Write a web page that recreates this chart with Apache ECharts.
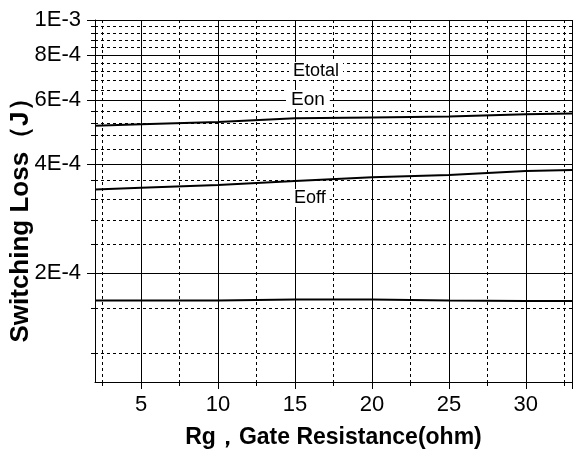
<!DOCTYPE html>
<html>
<head>
<meta charset="utf-8">
<script src="https://cdn.jsdelivr.net/npm/echarts@6/dist/echarts.min.js"></script>
<style>
  html, body { margin: 0; padding: 0; background: #fff; }
  #container { width: 573px; height: 454px; }
</style>
</head>
<body>
<div id="container"></div>
<script>
// Rg (ohm)
var rg = [2, 5, 10, 15, 20, 25, 30, 33];
// switching loss (J)
var etotal = [5.10e-4, 5.15e-4, 5.23e-4, 5.35e-4, 5.38e-4, 5.41e-4, 5.49e-4, 5.52e-4];
var eon = [3.40e-4, 3.44e-4, 3.50e-4, 3.59e-4, 3.68e-4, 3.73e-4, 3.83e-4, 3.85e-4];
var eoff = [1.68e-4, 1.68e-4, 1.68e-4, 1.69e-4, 1.69e-4, 1.68e-4, 1.675e-4, 1.675e-4];

var xMajor = [5, 10, 15, 20, 25, 30];
var xMinor = [2.5, 7.5, 12.5, 17.5, 22.5, 27.5, 32.5];
var yMajor = [2e-4, 4e-4, 6e-4, 8e-4, 1e-3];
var yMinor = [1.2e-4, 1.6e-4, 2.4e-4, 2.8e-4, 3.2e-4, 3.6e-4, 4.4e-4, 4.8e-4, 5.2e-4, 5.6e-4,
              6.4e-4, 6.8e-4, 7.2e-4, 7.6e-4, 8.4e-4, 8.8e-4, 9.2e-4, 9.6e-4];

var FONT = "'Liberation Sans', Arial, sans-serif";

function lg(v) { return Math.log10(v); }

// log10 value -> "2E-4"
function sciLabel(v) {
    var exp = Math.floor(v + 1e-9);
    var mant = Math.round(Math.pow(10, v - exp));
    return mant + 'E' + exp;
}

function makeSeries(name, vals) {
    var data = [];
    for (var i = 0; i < rg.length; i++) {
        data.push([rg[i], lg(vals[i])]);
    }
    return {
        name: name,
        type: 'line',
        data: data,
        symbol: 'none',
        lineStyle: { color: '#000', width: 2 },
        xAxisIndex: 0,
        yAxisIndex: 0,
        z: 5
    };
}

var dom = document.getElementById('container');
var myChart = echarts.init(dom);

var option = {
    animation: false,
    grid: { left: 95, right: 1, top: 20, bottom: 71 },
    xAxis: [{
        type: 'value',
        min: 2,
        max: 33,
        position: 'bottom',
        name: 'Rg，Gate Resistance(ohm)',
        nameLocation: 'middle',
        nameGap: 44,
        nameTextStyle: { fontFamily: FONT, fontSize: 23, fontWeight: 'bold', color: '#000' },
        axisLine: { show: true, lineStyle: { color: '#000', width: 1 } },
        axisTick: { show: true, inside: false, length: 7, customValues: xMajor.concat([33]), lineStyle: { color: '#000' } },
        axisLabel: { customValues: xMajor, margin: 12, fontFamily: FONT, fontSize: 22, color: '#000' },
        splitLine: { show: true, lineStyle: { color: '#000', width: 1 } }
    }, {
        type: 'value',
        min: 2,
        max: 33,
        position: 'bottom',
        axisLine: { show: false },
        axisTick: { show: true, inside: false, length: 4, customValues: xMinor, lineStyle: { color: '#000' } },
        axisLabel: { show: false },
        splitLine: { show: true, lineStyle: { color: '#000', width: 1, type: [3, 3] } }
    }],
    yAxis: [{
        type: 'value',
        min: -4,
        max: -3,
        position: 'left',
        axisLine: { show: true, lineStyle: { color: '#000', width: 1 } },
        axisTick: { show: true, inside: false, length: 8, customValues: yMajor.map(lg), lineStyle: { color: '#000' } },
        axisLabel: {
            customValues: yMajor.map(lg),
            margin: 14,
            fontFamily: FONT,
            fontSize: 22,
            color: '#000',
            formatter: function (v) { return sciLabel(v); }
        },
        splitLine: { show: true, lineStyle: { color: '#000', width: 1 } }
    }, {
        type: 'value',
        min: -4,
        max: -3,
        position: 'left',
        axisLine: { show: false },
        axisTick: { show: true, inside: false, length: 4, customValues: yMinor.map(lg), lineStyle: { color: '#000' } },
        axisLabel: { show: false },
        splitLine: { show: true, lineStyle: { color: '#000', width: 1, type: [3, 3] } }
    }],
    series: [
        makeSeries('Etotal', etotal),
        makeSeries('Eon', eon),
        makeSeries('Eoff', eoff)
    ],
    graphic: [{
        type: 'text',
        left: 289, top: 62, z: 10,
        style: { text: 'Etotal', fontFamily: FONT, fontSize: 18, fill: '#000', backgroundColor: '#fff', padding: [0, 4] }
    }, {
        type: 'text',
        left: 286, top: 90, z: 10,
        style: { text: 'Eon', fontFamily: FONT, fontSize: 19, fill: '#000', backgroundColor: '#fff', padding: [0, 5] }
    }, {
        type: 'text',
        left: 290, top: 189, z: 10,
        style: { text: 'Eoff', fontFamily: FONT, fontSize: 18, fill: '#000', backgroundColor: '#fff', padding: [0, 4] }
    }, {
        type: 'text',
        x: 21, y: 214, rotation: Math.PI / 2, z: 10,
        style: { text: 'Switching Loss（J）', fontFamily: FONT, fontSize: 26, fontWeight: 'bold', fill: '#000', align: 'center', verticalAlign: 'middle' }
    }]
};

myChart.setOption(option, true);
</script>
</body>
</html>
